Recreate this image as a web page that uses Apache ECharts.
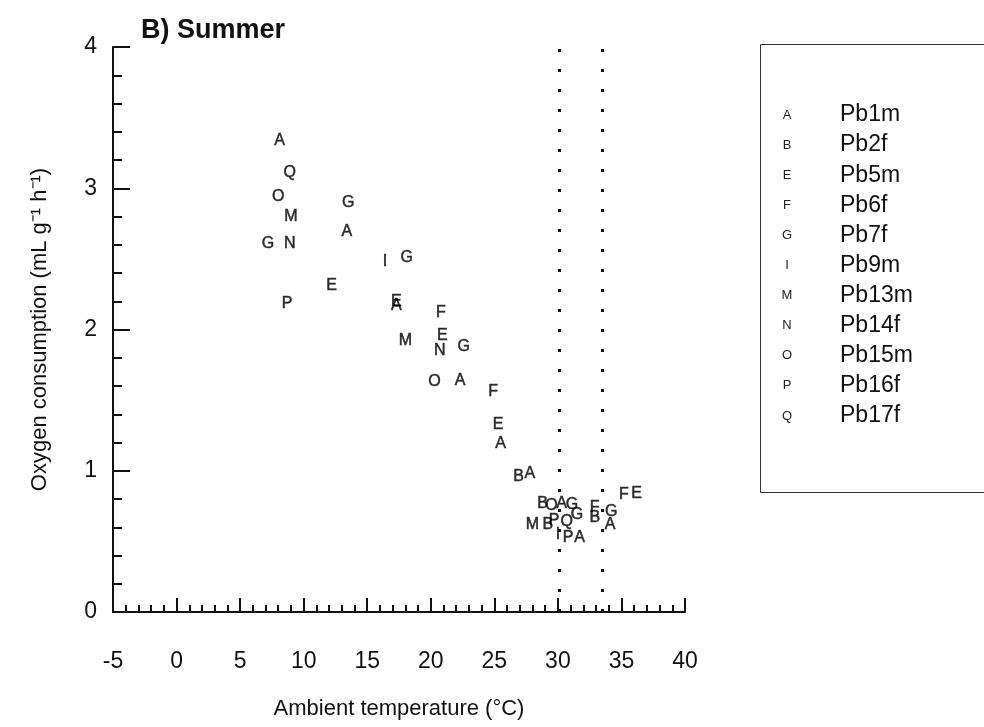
<!DOCTYPE html>
<html>
<head>
<meta charset="utf-8">
<script src="https://cdn.jsdelivr.net/npm/echarts@6/dist/echarts.min.js"></script>
<style>
html,body{margin:0;padding:0;background:#fff;}
#chart{width:984px;height:727px;}
</style>
</head>
<body>
<div id="chart"></div>
<script>
// ---- data ----
const letters = ['A','B','E','F','G','I','M','N','O','P','Q'];
const animalNames = ['Pb1m','Pb2f','Pb5m','Pb6f','Pb7f','Pb9m','Pb13m','Pb14f','Pb15m','Pb16f','Pb17f'];
const ptsA = [[8.1,3.34],[13.4,2.69],[17.3,2.17],[22.3,1.64],[25.5,1.19],[27.8,0.98],[30.3,0.77],[31.7,0.53],[34.1,0.62]];
const ptsB = [[26.9,0.96],[28.8,0.77],[29.2,0.62],[32.9,0.67]];
const ptsE = [[12.2,2.31],[17.3,2.20],[20.9,1.96],[25.3,1.33],[36.2,0.84]];
const ptsF = [[20.8,2.12],[24.9,1.56],[32.9,0.74],[35.2,0.83]];
const ptsG = [[7.2,2.61],[13.5,2.90],[18.1,2.51],[22.6,1.88],[31.1,0.76],[31.5,0.69],[34.2,0.71]];
const ptsI = [[16.4,2.48],[30.0,0.55]];
const ptsM = [[9.0,2.80],[18.0,1.92],[28.0,0.62]];
const ptsN = [[8.9,2.61],[20.7,1.85]];
const ptsO = [[8.0,2.94],[20.3,1.63],[29.5,0.75]];
const ptsP = [[8.7,2.18],[29.7,0.65],[30.8,0.53]];
const ptsQ = [[8.9,3.11],[30.7,0.64]];
const tnzBounds = [30.1, 33.5];
const xTicks = [-5,0,5,10,15,20,25,30,35,40];
const yTicks = [0,1,2,3,4];

const allPts = [ptsA,ptsB,ptsE,ptsF,ptsG,ptsI,ptsM,ptsN,ptsO,ptsP,ptsQ];
const FONT = '"Liberation Sans", Arial, sans-serif';

const series = letters.map((L, i) => ({
  name: animalNames[i],
  type: 'scatter',
  data: allPts[i],
  symbol: 'circle',
  symbolSize: 1,
  itemStyle: {color: 'rgba(0,0,0,0)'},
  label: {show: true, position: 'inside', formatter: L, color: '#000', fontSize: 16, fontFamily: FONT,
    textBorderColor: '#000', textBorderWidth: 0.5},
  emphasis: {disabled: true},
  z: 3
}));
series.push({
  type: 'scatter', data: [], silent: true,
  markLine: {
    silent: true, symbol: 'none', label: {show: false},
    lineStyle: {color: '#111', width: 3, type: [3, 17]},
    data: tnzBounds.map(v => ({xAxis: v}))
  }
});

const graphic = [
  {type: 'rect', left: 758, top: 42, shape: {width: 260, height: 448},
   style: {fill: 'none', stroke: '#333', lineWidth: 1}}
];
letters.forEach((L, i) => {
  graphic.push({type: 'text', x: 787, y: 115 + i * 30.1,
    style: {text: L, fill: '#222', font: '13px ' + FONT, textAlign: 'center', textVerticalAlign: 'middle'}});
  graphic.push({type: 'text', x: 840, y: 115 + i * 30.1,
    style: {text: animalNames[i], fill: '#111', font: '23px ' + FONT, textAlign: 'left', textVerticalAlign: 'middle'}});
});

const chart = echarts.init(document.getElementById('chart'), null, {renderer: 'canvas'});
chart.setOption({
  animation: false,
  backgroundColor: '#fff',
  title: {text: 'B) Summer', left: 136, top: 12,
    textStyle: {fontFamily: FONT, fontSize: 27, fontWeight: 'bold', color: '#111'}},
  grid: {left: 113, right: 299, top: 47, bottom: 115},
  xAxis: {
    type: 'value', min: -5, max: 40, interval: 5,
    name: 'Ambient temperature (°C)', nameLocation: 'middle', nameGap: 86,
    nameTextStyle: {fontFamily: FONT, fontSize: 22, color: '#111'},
    axisLine: {onZero: false, lineStyle: {color: '#111', width: 2}},
    axisTick: {inside: true, length: 14, lineStyle: {color: '#111', width: 2}},
    minorTick: {show: true, splitNumber: 5, length: 7, lineStyle: {color: '#111', width: 2}},
    splitLine: {show: false},
    axisLabel: {fontFamily: FONT, fontSize: 23, color: '#111', margin: 38,
      formatter: v => xTicks.includes(v) ? String(v) : ''}
  },
  yAxis: {
    type: 'value', min: 0, max: 4, interval: 1,
    name: 'Oxygen consumption (mL g⁻¹ h⁻¹)', nameLocation: 'middle', nameGap: 62,
    nameTextStyle: {fontFamily: FONT, fontSize: 22, color: '#111'},
    axisLine: {onZero: false, lineStyle: {color: '#111', width: 2}},
    axisTick: {inside: true, length: 17, lineStyle: {color: '#111', width: 2}},
    minorTick: {show: true, splitNumber: 5, length: 9, lineStyle: {color: '#111', width: 2}},
    splitLine: {show: false},
    axisLabel: {fontFamily: FONT, fontSize: 23, color: '#111', margin: 16,
      formatter: v => yTicks.includes(v) ? String(v) : ''}
  },
  legend: {show: false},
  graphic: graphic,
  series: series
});
</script>
</body>
</html>
